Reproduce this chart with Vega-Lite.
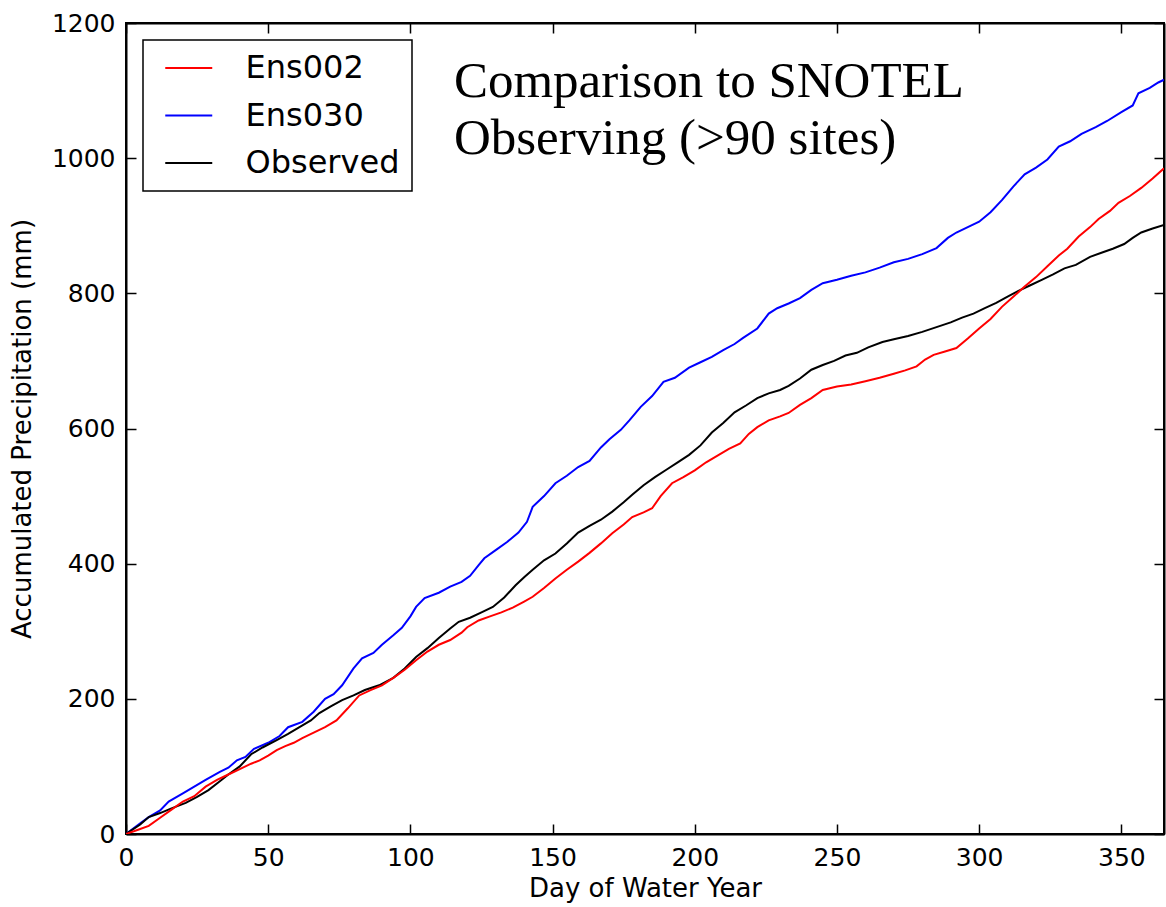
{
  "$schema": "https://vega.github.io/schema/vega-lite/v6.json",
  "width": 1038,
  "height": 811,
  "autosize": {"type": "none"},
  "padding": {"left": 126, "top": 23, "right": 2, "bottom": 73},
  "background": "white",
  "config": {
    "view": {"stroke": "black", "strokeWidth": 2},
    "font": "DejaVu Sans",
    "axis": {
      "grid": false,
      "domainColor": "black",
      "domainWidth": 2,
      "tickColor": "black",
      "tickWidth": 1.5,
      "tickSize": -10,
      "labelFlush": false,
      "labelOverlap": false,
      "labelFont": "DejaVu Sans",
      "labelFontSize": 25,
      "labelColor": "black",
      "titleFont": "DejaVu Sans",
      "titleFontSize": 26,
      "titleFontWeight": "normal",
      "titleColor": "black"
    },
    "legend": {
      "orient": "top-left",
      "offset": 17,
      "strokeColor": "black",
      "strokeWidth": 1.5,
      "fillColor": "white",
      "padding": 12,
      "symbolType": "M-2,0H2",
      "symbolSize": 552,
      "symbolStrokeWidth": 2,
      "symbolOffset": 17.75,
      "labelFont": "DejaVu Sans",
      "labelFontSize": 32,
      "labelColor": "black",
      "labelOffset": 40.75,
      "rowPadding": 15.5,
      "cornerRadius": 0
    }
  },
  "layer": [
    {
      "data": {
        "values": [
          {"series":"Ens030","day":0,"mm":0},{"series":"Ens030","day":5,"mm":16},{"series":"Ens030","day":8,"mm":25},{"series":"Ens030","day":12,"mm":35},{"series":"Ens030","day":15,"mm":48},{"series":"Ens030","day":20,"mm":60},{"series":"Ens030","day":24,"mm":70},{"series":"Ens030","day":28,"mm":80},{"series":"Ens030","day":33,"mm":92},{"series":"Ens030","day":36,"mm":98},{"series":"Ens030","day":39,"mm":109},{"series":"Ens030","day":42,"mm":114},{"series":"Ens030","day":45,"mm":126},{"series":"Ens030","day":50,"mm":135},{"series":"Ens030","day":54,"mm":145},{"series":"Ens030","day":57,"mm":158},{"series":"Ens030","day":62,"mm":166},{"series":"Ens030","day":66,"mm":181},{"series":"Ens030","day":70,"mm":200},{"series":"Ens030","day":73,"mm":207},{"series":"Ens030","day":76,"mm":220},{"series":"Ens030","day":80,"mm":245},{"series":"Ens030","day":83,"mm":260},{"series":"Ens030","day":87,"mm":268},{"series":"Ens030","day":90,"mm":280},{"series":"Ens030","day":94,"mm":294},{"series":"Ens030","day":97,"mm":305},{"series":"Ens030","day":100,"mm":322},{"series":"Ens030","day":102,"mm":336},{"series":"Ens030","day":105,"mm":349},{"series":"Ens030","day":110,"mm":357},{"series":"Ens030","day":114,"mm":366},{"series":"Ens030","day":118,"mm":373},{"series":"Ens030","day":121,"mm":382},{"series":"Ens030","day":124,"mm":398},{"series":"Ens030","day":126,"mm":408},{"series":"Ens030","day":130,"mm":420},{"series":"Ens030","day":134,"mm":432},{"series":"Ens030","day":138,"mm":446},{"series":"Ens030","day":141,"mm":462},{"series":"Ens030","day":143,"mm":484},{"series":"Ens030","day":147,"mm":500},{"series":"Ens030","day":151,"mm":519},{"series":"Ens030","day":155,"mm":530},{"series":"Ens030","day":159,"mm":543},{"series":"Ens030","day":163,"mm":552},{"series":"Ens030","day":167,"mm":572},{"series":"Ens030","day":170,"mm":584},{"series":"Ens030","day":174,"mm":598},{"series":"Ens030","day":177,"mm":612},{"series":"Ens030","day":181,"mm":632},{"series":"Ens030","day":185,"mm":648},{"series":"Ens030","day":189,"mm":669},{"series":"Ens030","day":193,"mm":675},{"series":"Ens030","day":198,"mm":690},{"series":"Ens030","day":202,"mm":698},{"series":"Ens030","day":206,"mm":706},{"series":"Ens030","day":210,"mm":716},{"series":"Ens030","day":214,"mm":725},{"series":"Ens030","day":217,"mm":734},{"series":"Ens030","day":222,"mm":748},{"series":"Ens030","day":226,"mm":770},{"series":"Ens030","day":229,"mm":778},{"series":"Ens030","day":233,"mm":785},{"series":"Ens030","day":237,"mm":793},{"series":"Ens030","day":241,"mm":805},{"series":"Ens030","day":245,"mm":815},{"series":"Ens030","day":250,"mm":820},{"series":"Ens030","day":255,"mm":826},{"series":"Ens030","day":260,"mm":831},{"series":"Ens030","day":265,"mm":838},{"series":"Ens030","day":270,"mm":846},{"series":"Ens030","day":275,"mm":851},{"series":"Ens030","day":280,"mm":858},{"series":"Ens030","day":285,"mm":867},{"series":"Ens030","day":289,"mm":882},{"series":"Ens030","day":292,"mm":890},{"series":"Ens030","day":296,"mm":898},{"series":"Ens030","day":300,"mm":906},{"series":"Ens030","day":304,"mm":920},{"series":"Ens030","day":308,"mm":938},{"series":"Ens030","day":312,"mm":958},{"series":"Ens030","day":316,"mm":976},{"series":"Ens030","day":320,"mm":986},{"series":"Ens030","day":324,"mm":998},{"series":"Ens030","day":328,"mm":1017},{"series":"Ens030","day":332,"mm":1025},{"series":"Ens030","day":336,"mm":1036},{"series":"Ens030","day":341,"mm":1046},{"series":"Ens030","day":345,"mm":1055},{"series":"Ens030","day":350,"mm":1068},{"series":"Ens030","day":354,"mm":1078},{"series":"Ens030","day":356,"mm":1096},{"series":"Ens030","day":360,"mm":1104},{"series":"Ens030","day":363,"mm":1112},{"series":"Ens030","day":365,"mm":1116},
          {"series":"Observed","day":0,"mm":0},{"series":"Observed","day":5,"mm":14},{"series":"Observed","day":8,"mm":25},{"series":"Observed","day":12,"mm":31},{"series":"Observed","day":16,"mm":38},{"series":"Observed","day":21,"mm":46},{"series":"Observed","day":25,"mm":55},{"series":"Observed","day":29,"mm":65},{"series":"Observed","day":33,"mm":78},{"series":"Observed","day":36,"mm":88},{"series":"Observed","day":40,"mm":100},{"series":"Observed","day":44,"mm":118},{"series":"Observed","day":48,"mm":128},{"series":"Observed","day":53,"mm":139},{"series":"Observed","day":57,"mm":148},{"series":"Observed","day":61,"mm":158},{"series":"Observed","day":65,"mm":168},{"series":"Observed","day":68,"mm":179},{"series":"Observed","day":72,"mm":189},{"series":"Observed","day":76,"mm":198},{"series":"Observed","day":80,"mm":205},{"series":"Observed","day":84,"mm":213},{"series":"Observed","day":89,"mm":220},{"series":"Observed","day":94,"mm":231},{"series":"Observed","day":98,"mm":245},{"series":"Observed","day":102,"mm":262},{"series":"Observed","day":106,"mm":275},{"series":"Observed","day":110,"mm":290},{"series":"Observed","day":114,"mm":304},{"series":"Observed","day":117,"mm":314},{"series":"Observed","day":121,"mm":320},{"series":"Observed","day":125,"mm":328},{"series":"Observed","day":129,"mm":336},{"series":"Observed","day":133,"mm":350},{"series":"Observed","day":137,"mm":368},{"series":"Observed","day":140,"mm":380},{"series":"Observed","day":143,"mm":391},{"series":"Observed","day":147,"mm":405},{"series":"Observed","day":151,"mm":415},{"series":"Observed","day":155,"mm":430},{"series":"Observed","day":159,"mm":446},{"series":"Observed","day":163,"mm":456},{"series":"Observed","day":167,"mm":465},{"series":"Observed","day":171,"mm":477},{"series":"Observed","day":175,"mm":491},{"series":"Observed","day":178,"mm":502},{"series":"Observed","day":182,"mm":516},{"series":"Observed","day":186,"mm":528},{"series":"Observed","day":190,"mm":539},{"series":"Observed","day":194,"mm":550},{"series":"Observed","day":198,"mm":561},{"series":"Observed","day":202,"mm":575},{"series":"Observed","day":206,"mm":594},{"series":"Observed","day":210,"mm":608},{"series":"Observed","day":214,"mm":624},{"series":"Observed","day":218,"mm":634},{"series":"Observed","day":222,"mm":645},{"series":"Observed","day":226,"mm":652},{"series":"Observed","day":230,"mm":657},{"series":"Observed","day":233,"mm":663},{"series":"Observed","day":237,"mm":674},{"series":"Observed","day":241,"mm":687},{"series":"Observed","day":245,"mm":694},{"series":"Observed","day":249,"mm":700},{"series":"Observed","day":253,"mm":708},{"series":"Observed","day":257,"mm":712},{"series":"Observed","day":261,"mm":720},{"series":"Observed","day":266,"mm":728},{"series":"Observed","day":270,"mm":732},{"series":"Observed","day":275,"mm":737},{"series":"Observed","day":280,"mm":743},{"series":"Observed","day":285,"mm":750},{"series":"Observed","day":290,"mm":757},{"series":"Observed","day":294,"mm":764},{"series":"Observed","day":298,"mm":770},{"series":"Observed","day":302,"mm":778},{"series":"Observed","day":306,"mm":786},{"series":"Observed","day":310,"mm":795},{"series":"Observed","day":314,"mm":804},{"series":"Observed","day":318,"mm":812},{"series":"Observed","day":322,"mm":820},{"series":"Observed","day":326,"mm":828},{"series":"Observed","day":330,"mm":837},{"series":"Observed","day":334,"mm":842},{"series":"Observed","day":339,"mm":854},{"series":"Observed","day":343,"mm":860},{"series":"Observed","day":347,"mm":866},{"series":"Observed","day":351,"mm":873},{"series":"Observed","day":354,"mm":882},{"series":"Observed","day":357,"mm":890},{"series":"Observed","day":361,"mm":896},{"series":"Observed","day":365,"mm":901},
          {"series":"Ens002","day":0,"mm":0},{"series":"Ens002","day":4,"mm":6},{"series":"Ens002","day":8,"mm":12},{"series":"Ens002","day":12,"mm":24},{"series":"Ens002","day":16,"mm":36},{"series":"Ens002","day":20,"mm":48},{"series":"Ens002","day":24,"mm":56},{"series":"Ens002","day":28,"mm":70},{"series":"Ens002","day":32,"mm":80},{"series":"Ens002","day":36,"mm":88},{"series":"Ens002","day":40,"mm":96},{"series":"Ens002","day":44,"mm":104},{"series":"Ens002","day":47,"mm":109},{"series":"Ens002","day":50,"mm":116},{"series":"Ens002","day":53,"mm":124},{"series":"Ens002","day":56,"mm":130},{"series":"Ens002","day":59,"mm":135},{"series":"Ens002","day":62,"mm":142},{"series":"Ens002","day":66,"mm":150},{"series":"Ens002","day":70,"mm":158},{"series":"Ens002","day":74,"mm":168},{"series":"Ens002","day":78,"mm":186},{"series":"Ens002","day":82,"mm":205},{"series":"Ens002","day":86,"mm":213},{"series":"Ens002","day":90,"mm":220},{"series":"Ens002","day":94,"mm":231},{"series":"Ens002","day":98,"mm":243},{"series":"Ens002","day":102,"mm":257},{"series":"Ens002","day":106,"mm":270},{"series":"Ens002","day":110,"mm":280},{"series":"Ens002","day":114,"mm":287},{"series":"Ens002","day":118,"mm":298},{"series":"Ens002","day":120,"mm":306},{"series":"Ens002","day":124,"mm":316},{"series":"Ens002","day":128,"mm":322},{"series":"Ens002","day":132,"mm":328},{"series":"Ens002","day":136,"mm":335},{"series":"Ens002","day":140,"mm":344},{"series":"Ens002","day":143,"mm":351},{"series":"Ens002","day":147,"mm":364},{"series":"Ens002","day":151,"mm":378},{"series":"Ens002","day":155,"mm":391},{"series":"Ens002","day":159,"mm":403},{"series":"Ens002","day":163,"mm":416},{"series":"Ens002","day":167,"mm":430},{"series":"Ens002","day":171,"mm":445},{"series":"Ens002","day":175,"mm":458},{"series":"Ens002","day":178,"mm":469},{"series":"Ens002","day":182,"mm":476},{"series":"Ens002","day":185,"mm":482},{"series":"Ens002","day":188,"mm":500},{"series":"Ens002","day":192,"mm":519},{"series":"Ens002","day":196,"mm":528},{"series":"Ens002","day":200,"mm":538},{"series":"Ens002","day":204,"mm":550},{"series":"Ens002","day":208,"mm":560},{"series":"Ens002","day":212,"mm":570},{"series":"Ens002","day":216,"mm":578},{"series":"Ens002","day":219,"mm":592},{"series":"Ens002","day":222,"mm":602},{"series":"Ens002","day":226,"mm":612},{"series":"Ens002","day":230,"mm":618},{"series":"Ens002","day":233,"mm":623},{"series":"Ens002","day":237,"mm":635},{"series":"Ens002","day":241,"mm":645},{"series":"Ens002","day":245,"mm":657},{"series":"Ens002","day":250,"mm":662},{"series":"Ens002","day":255,"mm":665},{"series":"Ens002","day":260,"mm":670},{"series":"Ens002","day":265,"mm":675},{"series":"Ens002","day":270,"mm":681},{"series":"Ens002","day":274,"mm":686},{"series":"Ens002","day":278,"mm":692},{"series":"Ens002","day":281,"mm":702},{"series":"Ens002","day":284,"mm":709},{"series":"Ens002","day":288,"mm":714},{"series":"Ens002","day":292,"mm":719},{"series":"Ens002","day":296,"mm":733},{"series":"Ens002","day":300,"mm":748},{"series":"Ens002","day":304,"mm":762},{"series":"Ens002","day":308,"mm":780},{"series":"Ens002","day":312,"mm":795},{"series":"Ens002","day":316,"mm":810},{"series":"Ens002","day":320,"mm":824},{"series":"Ens002","day":324,"mm":840},{"series":"Ens002","day":328,"mm":856},{"series":"Ens002","day":331,"mm":866},{"series":"Ens002","day":335,"mm":884},{"series":"Ens002","day":339,"mm":898},{"series":"Ens002","day":342,"mm":910},{"series":"Ens002","day":346,"mm":922},{"series":"Ens002","day":349,"mm":934},{"series":"Ens002","day":353,"mm":944},{"series":"Ens002","day":357,"mm":956},{"series":"Ens002","day":361,"mm":970},{"series":"Ens002","day":365,"mm":985}
        ]
      },
      "mark": {"type": "line", "strokeWidth": 2, "clip": true},
      "encoding": {
        "x": {
          "field": "day", "type": "quantitative",
          "scale": {"domain": [0, 365], "nice": false, "zero": false},
          "axis": {"orient": "bottom", "title": "Day of Water Year", "format": "d", "values": [0,50,100,150,200,250,300,350], "labelPadding": 21, "titlePadding": 5}
        },
        "y": {
          "field": "mm", "type": "quantitative",
          "scale": {"domain": [0, 1200], "nice": false},
          "axis": {"orient": "left", "title": "Accumulated Precipitation (mm)", "format": "d", "values": [0,200,400,600,800,1000,1200], "labelPadding": 21, "titlePadding": 16}
        },
        "color": {
          "field": "series", "type": "nominal",
          "scale": {"domain": ["Ens002", "Ens030", "Observed"], "range": ["#ff0000", "#0000ff", "#000000"]},
          "legend": {"title": null}
        },
        "detail": {"field": "series"}
      }
    },
    {
      "data": {"values": [{"note": "Comparison to SNOTEL"}]},
      "mark": {"type": "text", "font": "Liberation Serif", "fontSize": 51, "align": "left", "baseline": "alphabetic", "lineHeight": 57, "color": "black"},
      "encoding": {
        "x": {"datum": 115.3, "type": "quantitative", "axis": {"orient": "top", "title": null, "labels": false, "values": [0,50,100,150,200,250,300,350]}},
        "y": {"datum": 1091, "type": "quantitative", "axis": {"orient": "right", "title": null, "labels": false, "values": [0,200,400,600,800,1000,1200]}},
        "text": {"value": ["Comparison to SNOTEL", "Observing (>90 sites)"]}
      }
    }
  ]
}
